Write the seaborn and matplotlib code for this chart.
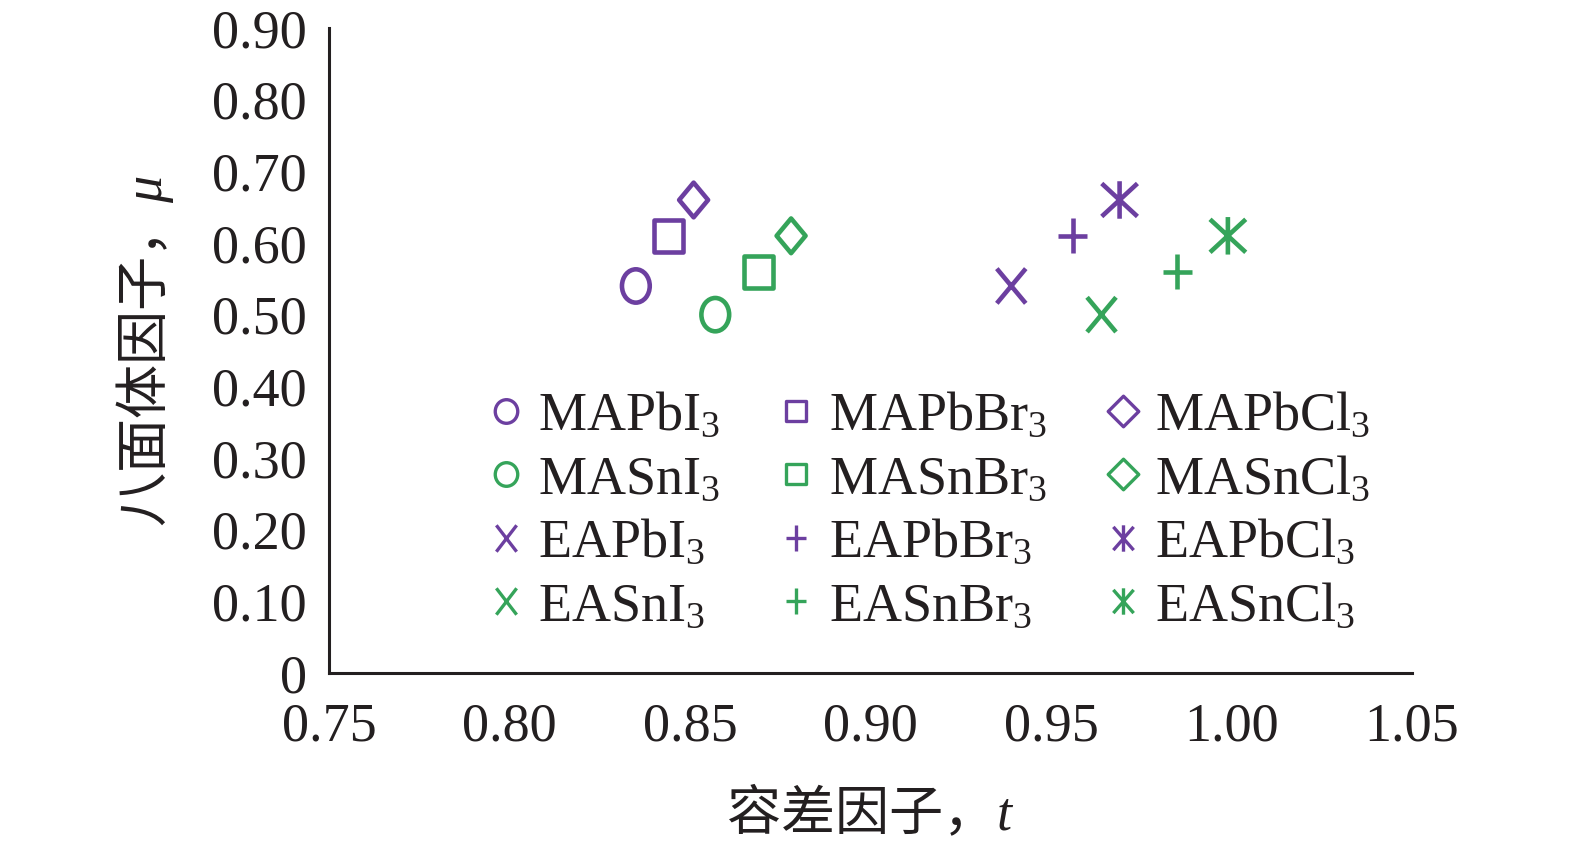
import numpy as np
import pandas as pd
import matplotlib
matplotlib.use("Agg")
import matplotlib.pyplot as plt
import seaborn as sns
from matplotlib.path import Path
from matplotlib.lines import Line2D

# ---------------- data ----------------
compounds = ["MAPbI", "MAPbBr", "MAPbCl",
             "MASnI", "MASnBr", "MASnCl",
             "EAPbI", "EAPbBr", "EAPbCl",
             "EASnI", "EASnBr", "EASnCl"]
tolerance_t = [0.835, 0.844, 0.851,
               0.857, 0.869, 0.878,
               0.939, 0.956, 0.969,
               0.964, 0.985, 0.999]
octahedral_mu = [0.54, 0.61, 0.66,
                 0.50, 0.56, 0.61,
                 0.54, 0.61, 0.66,
                 0.50, 0.56, 0.61]
metal_group = ["Pb", "Pb", "Pb", "Sn", "Sn", "Sn",
               "Pb", "Pb", "Pb", "Sn", "Sn", "Sn"]
marker_kind = ["circle", "square", "diamond",
               "circle", "square", "diamond",
               "x", "plus", "star",
               "x", "plus", "star"]
x_ticks = [0.75, 0.80, 0.85, 0.90, 0.95, 1.00, 1.05]
x_tick_labels = ["0.75", "0.80", "0.85", "0.90", "0.95", "1.00", "1.05"]
y_ticks = [0, 0.1, 0.2, 0.3, 0.4, 0.5, 0.6, 0.7, 0.8, 0.9]
y_tick_labels = ["0", "0.10", "0.20", "0.30", "0.40", "0.50",
                 "0.60", "0.70", "0.80", "0.90"]

df = pd.DataFrame({"compound": compounds, "t": tolerance_t,
                   "mu": octahedral_mu, "group": metal_group,
                   "kind": marker_kind})

palette = {"Pb": "#6c3fa0", "Sn": "#35a45a"}
INK = "#231f20"

# ---------------- marker shapes ----------------
M, L = Path.MOVETO, Path.LINETO


def ellipse(stretch):
    c = Path.unit_circle()
    return Path(c.vertices * np.array([1.0, stretch]), c.codes)


def rect(stretch):
    return Path([(-1, -stretch), (1, -stretch), (1, stretch), (-1, stretch), (-1, -stretch)],
                [M, L, L, L, Path.CLOSEPOLY])


def diamond(stretch):
    return Path([(0, -stretch), (1, 0), (0, stretch), (-1, 0), (0, -stretch)],
                [M, L, L, L, Path.CLOSEPOLY])


def xmark(stretch):
    return Path([(-1, -stretch), (1, stretch), (-1, stretch), (1, -stretch)], [M, L, M, L])


def plus(stretch):
    return Path([(-1, 0), (1, 0), (0, -stretch), (0, stretch)], [M, L, M, L])


def star(stretch):
    h = stretch * 0.88
    return Path([(0, -stretch), (0, stretch), (-1, -h), (1, h), (-1, h), (1, -h)],
                [M, L, M, L, M, L])


plot_markers = {"circle": (ellipse(1.2), 24), "square": (rect(1.12), 23),
                "diamond": (diamond(1.2), 25), "x": (xmark(1.2), 25),
                "plus": (plus(1.2), 25), "star": (star(1.05), 27)}
legend_markers = {"circle": (ellipse(1.05), 17), "square": (rect(1.0), 15),
                  "diamond": (diamond(1.0), 22), "x": (xmark(1.3), 19),
                  "plus": (plus(1.3), 19), "star": (star(1.3), 19)}

# ---------------- style ----------------
sns.set_theme(style="white")
plt.rcParams["font.family"] = ["Liberation Serif", "Noto Sans CJK SC", "DejaVu Sans"]
plt.rcParams["mathtext.fontset"] = "custom"
plt.rcParams["mathtext.rm"] = "Liberation Serif"
plt.rcParams["mathtext.it"] = "Liberation Serif:italic"
plt.rcParams["axes.unicode_minus"] = False

FS = 39
fig = plt.figure(figsize=(15.75, 8.48), dpi=100)
ax = fig.add_axes([0.2089, 0.2064, 0.6876, 0.967 - 0.2064])

for _, row in df.iterrows():
    c = palette[row["group"]]
    mk, ms = plot_markers[row["kind"]]
    sns.scatterplot(x=[row["t"]], y=[row["mu"]], ax=ax,
                    marker=mk, s=ms ** 2,
                    facecolor="none", edgecolor=c, linewidth=3.3,
                    legend=False, zorder=3)

ax.set_xlim(0.75, 1.05)
ax.set_ylim(0, 0.9)
ax.set_xticks(x_ticks)
ax.set_xticklabels(x_tick_labels)
ax.set_yticks(y_ticks)
ax.set_yticklabels(y_tick_labels)

for s in ["top", "right"]:
    ax.spines[s].set_visible(False)
for s in ["left", "bottom"]:
    ax.spines[s].set_color(INK)
    ax.spines[s].set_linewidth(2.2)
ax.tick_params(axis="both", direction="in", length=10, width=2.2,
               colors=INK, labelsize=FS, labelcolor=INK)
ax.tick_params(axis="y", pad=16)
ax.tick_params(axis="x", pad=21)
ax.grid(False)

ax.set_xlabel("容差因子，$t$", fontsize=FS, color=INK, labelpad=24,
              fontfamily="Noto Sans CJK SC")
ax.set_ylabel("八面体因子，$\\mu$", fontsize=FS, color=INK, labelpad=26,
              fontfamily="Noto Sans CJK SC")

# ---------------- legend (row-major order -> column-major for mpl) ----------------
handles_by_name = {}
for _, row in df.iterrows():
    mk, ms = legend_markers[row["kind"]]
    handles_by_name[row["compound"]] = Line2D(
        [], [], linestyle="none", marker=mk, markersize=ms,
        markerfacecolor="none", markeredgecolor=palette[row["group"]],
        markeredgewidth=2.4, label=row["compound"] + "$_{3}$")
ncol = 3
order = [compounds[r * ncol + c] for c in range(ncol) for r in range(4)]
leg = ax.legend(handles=[handles_by_name[n] for n in order], ncol=ncol,
                loc="upper left", bbox_to_anchor=(0.143, 0.437), frameon=False,
                fontsize=FS, handlelength=0.8, handletextpad=0.2,
                columnspacing=1.0, labelspacing=0.24, borderpad=0.0,
                borderaxespad=0.0)
for t in leg.get_texts():
    t.set_color(INK)

fig.savefig("out.png", dpi=100, facecolor="white")
